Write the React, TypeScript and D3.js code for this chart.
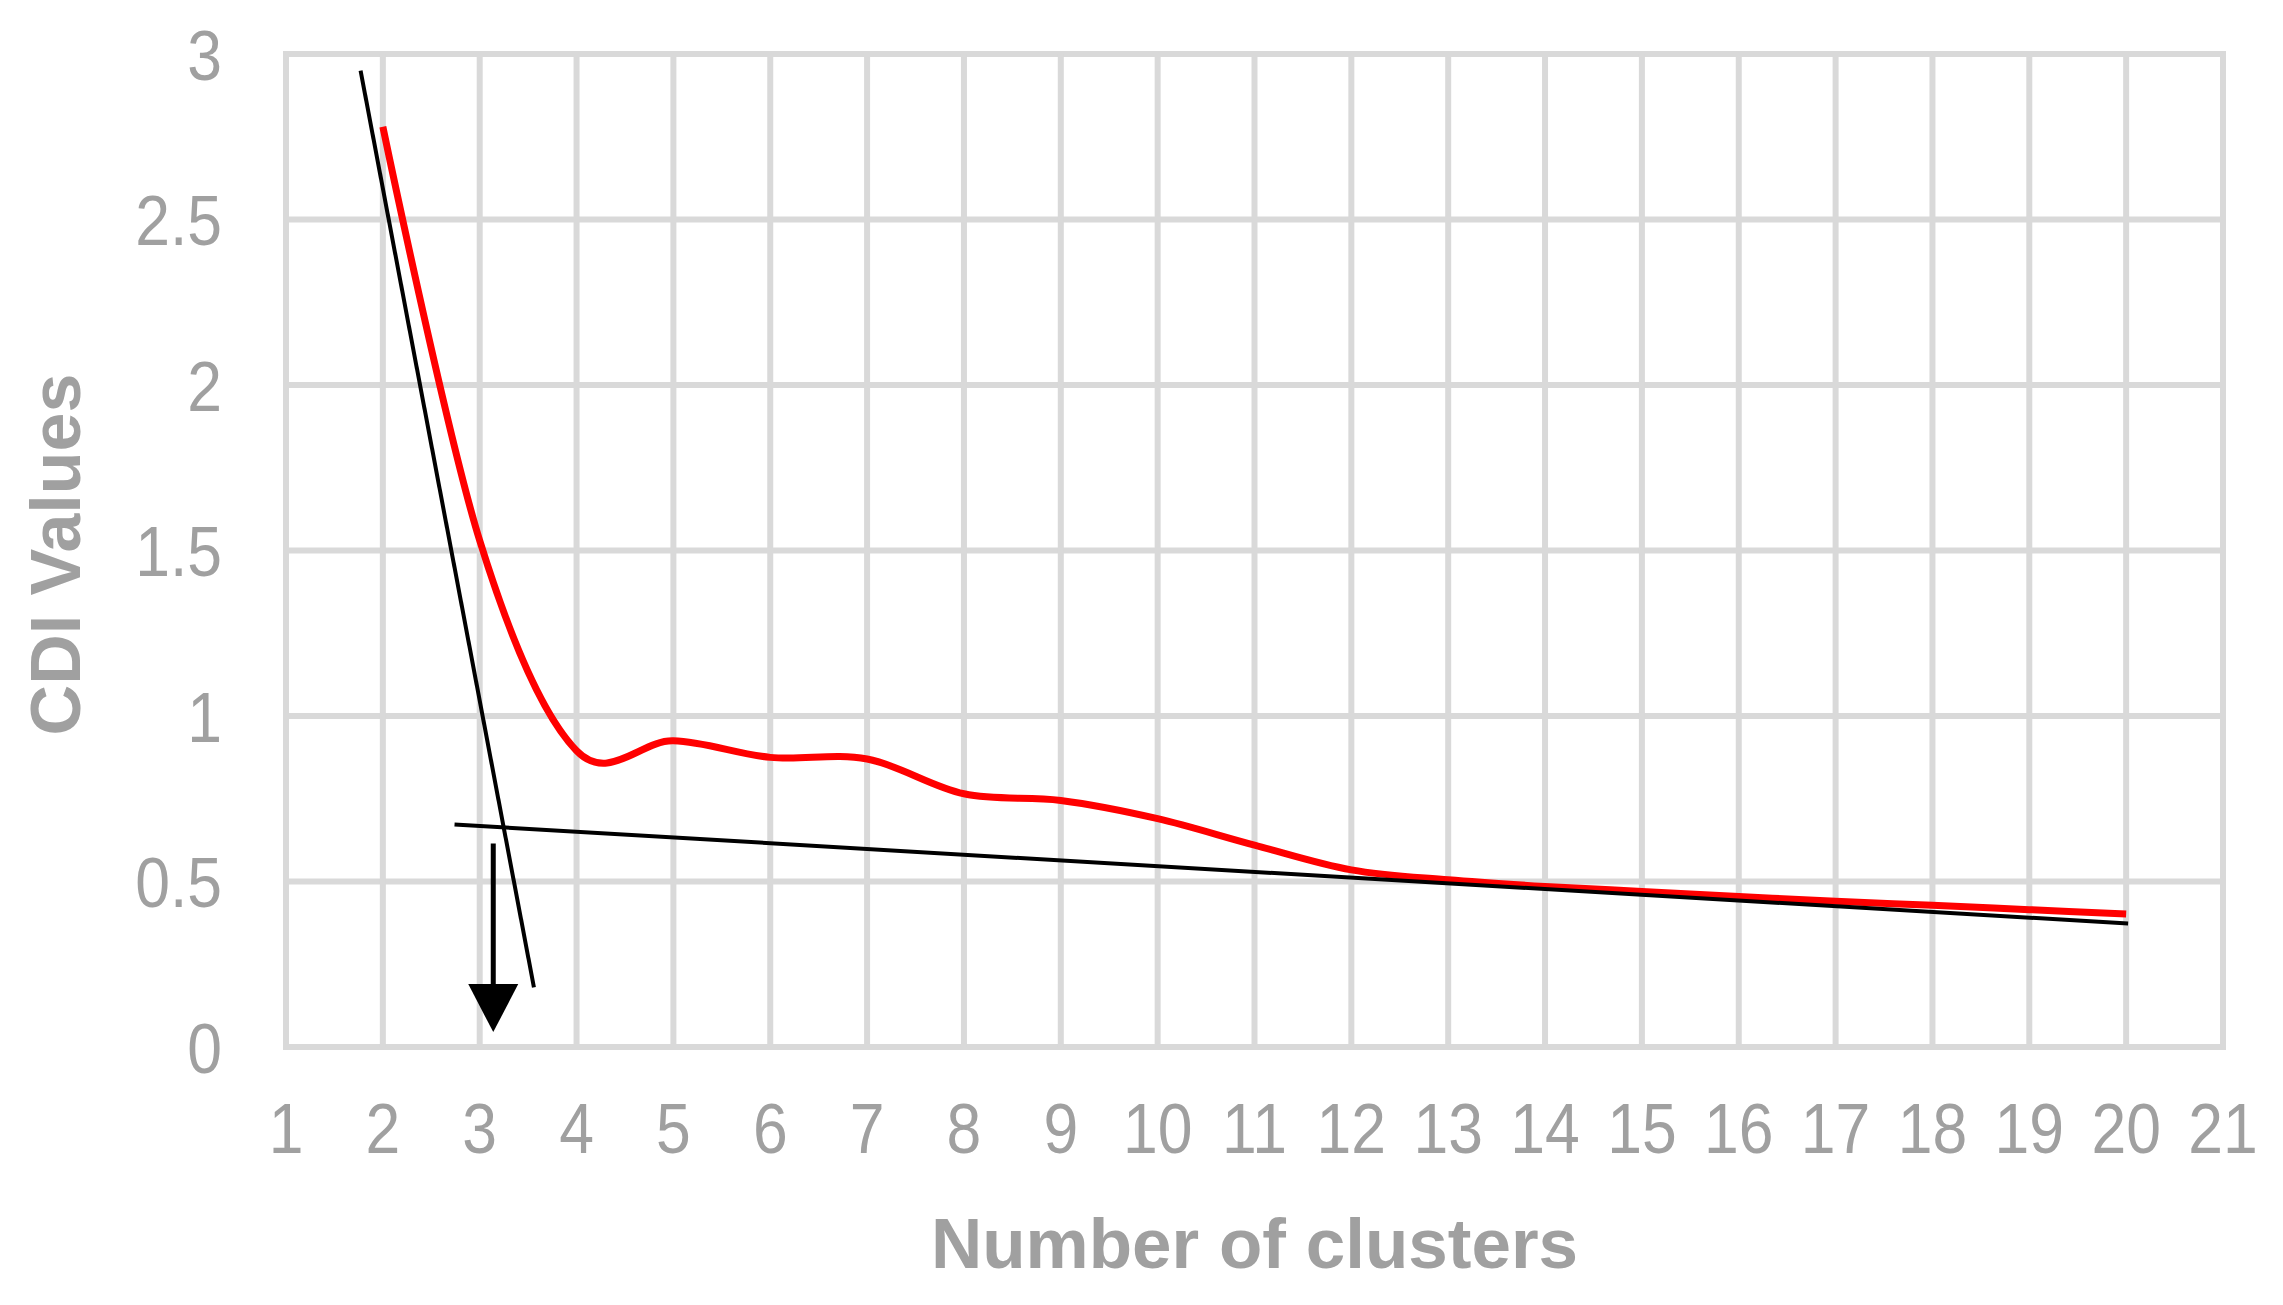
import React from "react";
import { scaleLinear, line, curveCatmullRom, range } from "d3";

// number of clusters and CDI values
const clusters = [2, 3, 4, 5, 6, 7, 8, 9, 10, 11, 12, 13, 14, 15, 16, 17, 18, 19, 20];
const cdiValues = [
  2.78, 1.53, 0.895, 0.925, 0.875, 0.87, 0.765, 0.745, 0.69, 0.61, 0.535, 0.505, 0.485, 0.47,
  0.455, 0.44, 0.428, 0.415, 0.402,
];

// the two tangent lines drawn by hand: [x, y] end points
const steepLine = [
  [1.77, 2.95],
  [3.56, 0.18],
];
const flatLine = [
  [2.74, 0.672],
  [20.02, 0.373],
];
// arrow pointing down to the elbow
const arrowX = 3.14;
const arrowTop = 0.615;
const arrowHeadTop = 0.19;
const arrowTip = 0.045;

const xTicks = range(1, 22);
const yTicks = [0, 0.5, 1, 1.5, 2, 2.5, 3];

const W = 2283;
const H = 1305;
const grid = "#d9d9d9";
const textGray = "#a0a0a0";
const tickFont = "'Liberation Sans Narrow', 'Arial Narrow', 'Liberation Sans', Arial, sans-serif";
const titleFont = "'Liberation Sans', Arial, sans-serif";

export default function App() {
  const x = scaleLinear().domain([1, 21]).range([286, 2223]);
  const y = scaleLinear().domain([0, 3]).range([1047, 54]);

  const redPath = line<number>()
    .x((d, i) => x(clusters[i]))
    .y((d) => y(d))
    .curve(curveCatmullRom.alpha(0))(cdiValues);

  const seg = line<number[]>()
    .x((d) => x(d[0]))
    .y((d) => y(d[1]));

  const headHalf = 25;
  const ax = x(arrowX);

  return (
    <svg
      width={W}
      height={H}
      style={{ position: "absolute", left: 0, top: 0, background: "#fff" }}
    >
      <rect width={W} height={H} fill="#fff" />
      {/* gridlines */}
      <g>
        {yTicks.map((t) => (
          <line key={"h" + t} x1={x(1) - 3} x2={x(21) + 3} y1={y(t)} y2={y(t)} stroke={grid} strokeWidth={6} />
        ))}
        {xTicks.map((t) => (
          <line key={"v" + t} x1={x(t)} x2={x(t)} y1={y(3)} y2={y(0)} stroke={grid} strokeWidth={6} />
        ))}
      </g>

      {/* tick labels */}
      <g fontFamily={tickFont} fontSize={71} fill={textGray}>
        {yTicks.map((t) => (
          <text
            key={"yl" + t}
            transform={`translate(222, ${y(t)}) scale(0.88, 1)`}
            dy="0.36em"
            textAnchor="end"
          >
            {t}
          </text>
        ))}
        {xTicks.map((t) => (
          <text
            key={"xl" + t}
            transform={`translate(${x(t)}, 1153) scale(0.88, 1)`}
            textAnchor="middle"
          >
            {t}
          </text>
        ))}
      </g>

      {/* axis titles */}
      <text
        x={(x(1) + x(21)) / 2}
        y={1268}
        textAnchor="middle"
        fontFamily={titleFont}
        fontWeight="bold"
        fontSize={71}
        fill={textGray}
      >
        Number of clusters
      </text>
      <text
        transform={`translate(80, ${(y(0) + y(3)) / 2 + 4}) rotate(-90)`}
        textAnchor="middle"
        fontFamily={titleFont}
        fontWeight="bold"
        fontSize={70}
        fill={textGray}
      >
        CDI Values
      </text>

      {/* CDI curve */}
      <path d={redPath || ""} fill="none" stroke="#ff0000" strokeWidth={7} />

      {/* tangent lines */}
      <path d={seg(steepLine) || ""} fill="none" stroke="#000" strokeWidth={4} />
      <path d={seg(flatLine) || ""} fill="none" stroke="#000" strokeWidth={4} />

      {/* arrow */}
      <line x1={ax} x2={ax} y1={y(arrowTop)} y2={y(arrowHeadTop)} stroke="#000" strokeWidth={5} />
      <path
        d={`M${ax - headHalf},${y(arrowHeadTop)} L${ax + headHalf},${y(arrowHeadTop)} L${ax},${y(arrowTip)} Z`}
        fill="#000"
      />
    </svg>
  );
}
